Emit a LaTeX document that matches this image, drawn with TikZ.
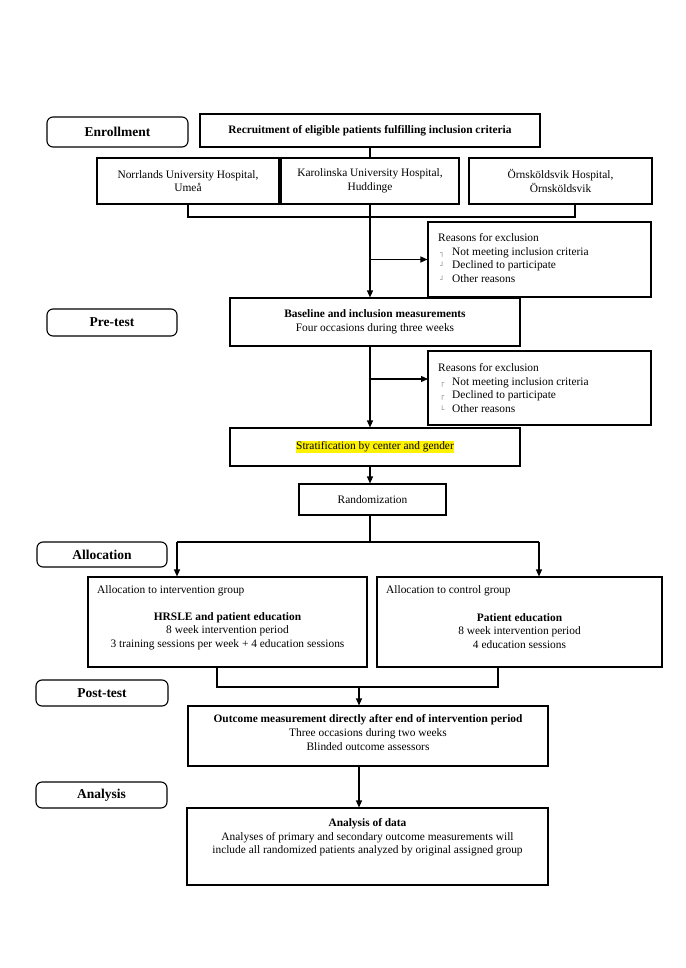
\documentclass[tikz,border=0pt]{standalone}
\usepackage{fontspec}
\setmainfont{Liberation Serif}
\newfontfamily\glyphfont{DejaVu Sans}
\usetikzlibrary{arrows.meta,calc}
\newcommand{\cm}[1]{\makebox[14pt][l]{\hspace{2pt}{\glyphfont\fontsize{7}{7}\selectfont\color{gray}#1}}}
\begin{document}
\begin{tikzpicture}[x=1pt,y=-1pt,
  box/.style={draw, line width=1.1pt, inner sep=0pt},
  phase/.style={draw, line width=1.1pt, rounded corners=6pt, inner sep=0pt, font=\fontsize{13.5}{16}\selectfont\bfseries},
  conn/.style={line width=1.2pt},
  arr/.style={line width=1.2pt, -{Triangle[length=7pt,width=6pt]}},
  txt/.style={inner sep=0pt, align=center, font=\fontsize{11.4}{13.6}\selectfont},
  ltxt/.style={inner sep=0pt, align=left, anchor=west, font=\fontsize{11.4}{13.4}\selectfont}
]
\useasboundingbox (0,0) rectangle (685,968);
\fill[white] (0,0) rectangle (685,968);

% phase labels
\node[phase, minimum width=141pt, minimum height=30pt] (enr) at (117.5,132) {Enrollment};
\node[phase, minimum width=130pt, minimum height=27pt] (pre) at (112,322.5) {Pre-test};
\node[phase, minimum width=130pt, minimum height=25pt] (alloc) at (102,554.5) {Allocation};
\node[phase, minimum width=132pt, minimum height=26pt] (post) at (102,693) {Post-test};
\node[phase, minimum width=131pt, minimum height=26pt] (analy) at (101.5,795) {Analysis};

% main boxes
\node[box, txt, minimum width=340pt, minimum height=33pt, font=\fontsize{11.4}{13.6}\selectfont\bfseries] (recr) at (370,130.5) {Recruitment of eligible patients fulfilling inclusion criteria};
\node[box, txt, minimum width=182pt, minimum height=46pt] (norr) at (188,181) {Norrlands University Hospital,\\ Umeå};
\node[box, txt, minimum width=178pt, minimum height=46pt] (karo) at (370,181) {Karolinska University Hospital,\\ Huddinge};
\node[box, txt, minimum width=183pt, minimum height=46pt] (orn) at (560.5,181) {Örnsköldsvik Hospital,\\ Örnsköldsvik};

\node[box, minimum width=223pt, minimum height=75pt] (excl1) at (539.5,259.5) {};
\node[ltxt] (excl1t) at (438,258) {Reasons for exclusion\\ \cm{┐}Not meeting inclusion criteria\\ \cm{┘}Declined to participate\\ \cm{┘}Other reasons};

\node[box, txt, minimum width=290pt, minimum height=48pt] (base) at (375,322) {\textbf{Baseline and inclusion measurements}\\ Four occasions during three weeks};

\node[box, minimum width=223pt, minimum height=74pt] (excl2) at (539.5,388) {};
\node[ltxt] (excl2t) at (438,388) {Reasons for exclusion\\ \cm{┌}Not meeting inclusion criteria\\ \cm{┌}Declined to participate\\ \cm{└}Other reasons};

\node[box, minimum width=290pt, minimum height=38pt] (strat) at (375,447) {};
\node[txt, fill=yellow, inner xsep=0.5pt, inner ysep=1pt] (stratt) at (375,447) {Stratification by center and gender};

\node[box, txt, minimum width=147pt, minimum height=31pt] (rand) at (372.5,499.5) {Randomization};

\node[box, minimum width=279pt, minimum height=90pt] (interv) at (227.5,622) {};
\node[ltxt] (intervh) at (97,591) {Allocation to intervention group};
\node[txt] (intervt) at (227.5,631) {\textbf{HRSLE and patient education}\\ 8 week intervention period\\ 3 training sessions per week + 4 education sessions};

\node[box, minimum width=285pt, minimum height=90pt] (ctrl) at (519.5,622) {};
\node[ltxt] (ctrlh) at (386,591) {Allocation to control group};
\node[txt] (ctrlt) at (519.5,631) {\textbf{Patient education}\\ 8 week intervention period\\ 4 education sessions};

\node[box, minimum width=360pt, minimum height=60pt] (outc) at (368,736) {};
\node[txt] (outct) at (368,732.5) {\textbf{Outcome measurement directly after end of intervention period}\\ Three occasions during two weeks\\ Blinded outcome assessors};

\node[box, minimum width=361pt, minimum height=77pt] (data) at (367.5,846.5) {};
\node[txt] (datat) at (367.5,837.5) {\textbf{Analysis of data}\\ Analyses of primary and secondary outcome measurements will\\ include all randomized patients analyzed by original assigned group};

% coordinates
\coordinate (spine) at (370,0);
\coordinate (mergeL) at (188,217);
\coordinate (mergeR) at (575,217);
\coordinate (x2in) at (428,379);
\coordinate (splitL) at (177,542);
\coordinate (splitR) at (539,542);
\coordinate (joinL) at (217,687);
\coordinate (joinR) at (498,687);
\coordinate (joinM) at (359,687);

% connectors
\draw[conn] (recr.south) -- (karo.north);
\draw[conn] (norr.south) -- (mergeL) -- (mergeR) -- (orn.south -| mergeR);
\draw[arr] (karo.south) -- (karo.south |- base.north);
\draw[arr] (excl1.west -| spine) -- (excl1.west);
\draw[arr] (base.south -| spine) -- (strat.north -| spine);
\draw[arr] (x2in -| spine) -- (x2in);
\draw[arr] (strat.south -| spine) -- (rand.north -| spine);
\draw[conn] (rand.south -| spine) -- (splitL -| spine);
\draw[conn] (splitL) -- (splitR);
\draw[arr] (splitL) -- (interv.north -| splitL);
\draw[arr] (splitR) -- (ctrl.north -| splitR);
\draw[conn] (interv.south -| joinL) -- (joinL) -- (joinR) -- (ctrl.south -| joinR);
\draw[arr] (joinM) -- (outc.north -| joinM);
\draw[arr] (outc.south -| joinM) -- (data.north -| joinM);
\end{tikzpicture}
\end{document}
